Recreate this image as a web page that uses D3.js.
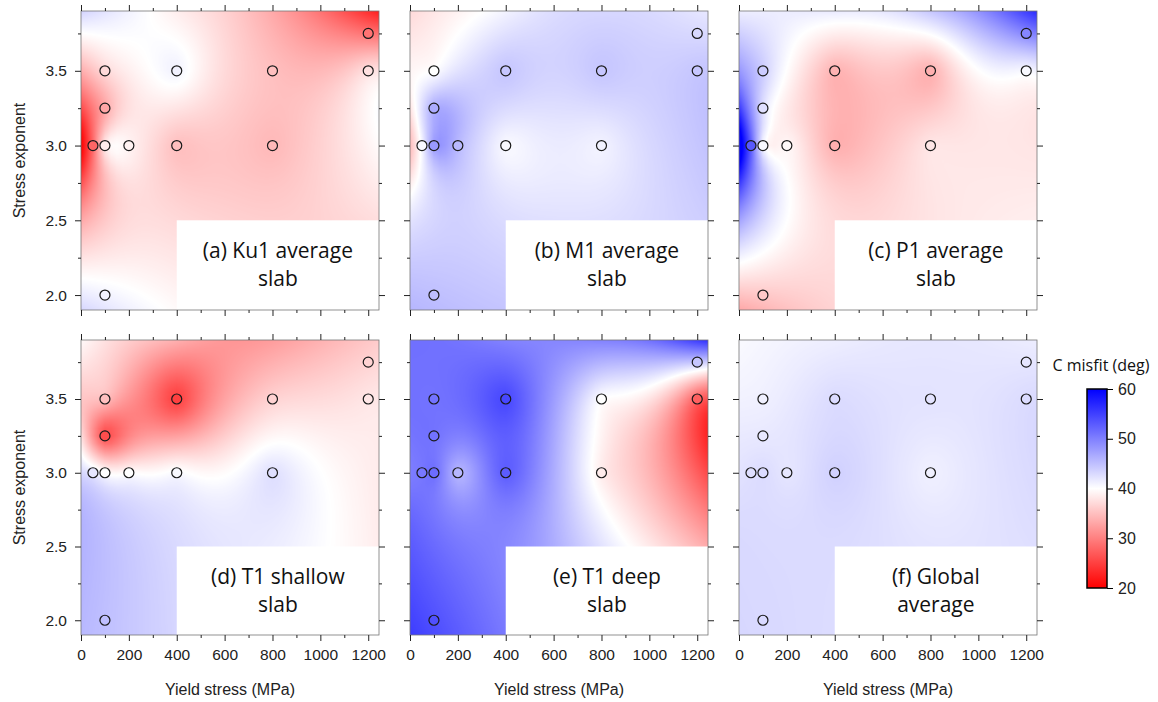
<!DOCTYPE html>
<html>
<head>
<meta charset="utf-8">
<script src="https://cdn.jsdelivr.net/npm/d3@7"></script>
<style>
  body { margin: 0; background: #fff; }
  svg { display: block; }
</style>
</head>
<body>
<svg id="chart" width="1158" height="702"></svg>
<script>
// Model runs: yield stress (MPa) and stress exponent of each run
const yieldStress    = [50, 100, 200, 400, 800, 100, 100, 400, 800, 1200, 1200, 100];
const stressExponent = [3.0, 3.0, 3.0, 3.0, 3.0, 3.25, 3.5, 3.5, 3.5, 3.5, 3.75, 2.0];

// C misfit (deg) of each run, per slab region
const misfitKu1       = [28.0, 38.5, 39.0, 35.0, 34.5, 33.0, 37.0, 41.0, 35.0, 37.6, 29.0, 41.0];
const misfitM1        = [40.5, 48.0, 45.5, 40.5, 41.0, 46.5, 40.0, 44.5, 44.5, 44.5, 43.0, 45.0];
const misfitP1        = [53.0, 40.5, 39.5, 33.8, 38.0, 42.5, 44.0, 34.0, 33.8, 40.5, 49.5, 35.7];
const misfitT1Shallow = [42.0, 40.0, 40.0, 40.5, 42.5, 26.0, 35.0, 25.0, 36.5, 38.0, 36.5, 45.0];
const misfitT1Deep    = [50.6, 51.5, 45.7, 52.8, 38.5, 51.0, 51.0, 54.4, 40.0, 27.5, 44.5, 53.7];
const misfitGlobal    = [42.5, 42.8, 42.0, 43.6, 41.2, 41.8, 41.2, 42.8, 42.2, 42.8, 42.0, 43.0];

const panelLabels = [
  ["(a) Ku1 average", "slab"],
  ["(b) M1 average", "slab"],
  ["(c) P1 average", "slab"],
  ["(d) T1 shallow", "slab"],
  ["(e) T1 deep", "slab"],
  ["(f) Global", "average"]
];
const panelValues = [misfitKu1, misfitM1, misfitP1, misfitT1Shallow, misfitT1Deep, misfitGlobal];

const xMajorTicks = [0, 200, 400, 600, 800, 1000, 1200];
const xMinorTicks = [100, 300, 500, 700, 900, 1100];
const yMajorTicks = [2.0, 2.5, 3.0, 3.5];
const yMinorTicks = [2.25, 2.75, 3.25, 3.75];
const colorTicks  = [20, 30, 40, 50, 60];

// Unsampled corner (high yield stress, low exponent) left blank
const blankFromYield = 400, blankBelowExponent = 2.5;

const xDomain = [0, 1245];
const yDomain = [1.9, 3.9];

const misfitColor = d3.scaleLinear()
  .domain([20, 40, 60])
  .range(["#ff0000", "#ffffff", "#0000ff"])
  .clamp(true);

// Lookup table of colours for fast raster fill
const lut = d3.range(0, 801).map(k => d3.rgb(misfitColor(20 + k * 0.05)));
function lutColor(v) {
  let k = Math.round((v - 20) / 0.05);
  if (k < 0) k = 0; if (k > 800) k = 800;
  return lut[k];
}

// Continuous-curvature gridding with tension on a regular node grid:
// (1-T) del^4 z - T del^2 z = 0 away from the runs, runs held fixed.
const gridDx = 25, gridDy = 0.05;
const gridNX = 51, gridNY = 41;          // x: 0..1250, y: 1.9..3.9
function gridSurface(values, tension, edgeTension) {
  const P = 2, W = gridNX + 2 * P, H = gridNY + 2 * P;
  const z = new Float64Array(W * H);
  const fixed = new Uint8Array(W * H);
  const id = (i, j) => (j + P) * W + (i + P);
  const nodes = values.map((v, k) => ({
    i: Math.round(yieldStress[k] / gridDx),
    j: Math.round((stressExponent[k] - yDomain[0]) / gridDy), v
  }));
  // start from inverse-distance weighting
  for (let j = 0; j < gridNY; j++) for (let i = 0; i < gridNX; i++) {
    let sw = 0, s = 0;
    nodes.forEach(n => {
      const d2 = (i - n.i) ** 2 + (j - n.j) ** 2 + 1e-6;
      const w = 1 / (d2 * d2); sw += w; s += w * n.v;
    });
    z[id(i, j)] = s / sw;
  }
  nodes.forEach(n => { z[id(n.i, n.j)] = n.v; fixed[id(n.i, n.j)] = 1; });
  const a = 1 - tension;
  const coef = 20 * a + 4 * tension;
  const e = 1 - edgeTension, omega = 1.7;
  for (let it = 0; it < 6000; it++) {
    // ghost nodes from edge conditions
    for (let i = 0; i < gridNX; i++) {
      const z0 = z[id(i, 0)], z1 = z[id(i, 1)];
      const gm1 = z0 - e * (z1 - z0); z[id(i, -1)] = gm1; z[id(i, -2)] = gm1 - e * (z0 - gm1);
      const t0 = z[id(i, gridNY - 1)], t1 = z[id(i, gridNY - 2)];
      const gp1 = t0 - e * (t1 - t0); z[id(i, gridNY)] = gp1; z[id(i, gridNY + 1)] = gp1 - e * (t0 - gp1);
    }
    for (let j = -P; j < gridNY + P; j++) {
      const z0 = z[id(0, j)], z1 = z[id(1, j)];
      const gm1 = z0 - e * (z1 - z0); z[id(-1, j)] = gm1; z[id(-2, j)] = gm1 - e * (z0 - gm1);
      const t0 = z[id(gridNX - 1, j)], t1 = z[id(gridNX - 2, j)];
      const gp1 = t0 - e * (t1 - t0); z[id(gridNX, j)] = gp1; z[id(gridNX + 1, j)] = gp1 - e * (t0 - gp1);
    }
    let maxChange = 0;
    for (let j = 0; j < gridNY; j++) {
      for (let i = 0; i < gridNX; i++) {
        const c = id(i, j);
        if (fixed[c]) continue;
        const s4 = z[c - 1] + z[c + 1] + z[c - W] + z[c + W];
        const sd = z[c - W - 1] + z[c - W + 1] + z[c + W - 1] + z[c + W + 1];
        const s2 = z[c - 2] + z[c + 2] + z[c - 2 * W] + z[c + 2 * W];
        const target = (a * (8 * s4 - 2 * sd - s2) + tension * s4) / coef;
        const delta = omega * (target - z[c]);
        z[c] += delta;
        if (Math.abs(delta) > maxChange) maxChange = Math.abs(delta);
      }
    }
    if (maxChange < 1e-5) break;
  }
  // bilinear sampling of the node grid
  return (xv, yv) => {
    let fi = xv / gridDx, fj = (yv - yDomain[0]) / gridDy;
    fi = Math.max(0, Math.min(gridNX - 1.0001, fi));
    fj = Math.max(0, Math.min(gridNY - 1.0001, fj));
    const i0 = Math.floor(fi), j0 = Math.floor(fj), tx = fi - i0, ty = fj - j0;
    const v00 = z[id(i0, j0)], v10 = z[id(i0 + 1, j0)], v01 = z[id(i0, j0 + 1)], v11 = z[id(i0 + 1, j0 + 1)];
    return (v00 * (1 - tx) + v10 * tx) * (1 - ty) + (v01 * (1 - tx) + v11 * tx) * ty;
  };
}

const svg = d3.select("#chart");
const colLeft = [81, 410, 739];
const rowTop = [11, 340];
const plotW = 298;
const plotH = [299, 295];

const tickFont = "'Liberation Sans', Arial, sans-serif";
const labelFont = "'Open Sans', 'Noto Sans', sans-serif";

panelValues.forEach((values, idx) => {
  const col = idx % 3, row = Math.floor(idx / 3);
  const W = plotW, H = plotH[row];
  const x = d3.scaleLinear().domain(xDomain).range([0, W]);
  const y = d3.scaleLinear().domain(yDomain).range([H, 0]);
  const g = svg.append("g").attr("transform", `translate(${colLeft[col]},${rowTop[row]})`);

  // Gridded misfit surface
  const surf = gridSurface(values, 0.12, 0.0);
  const canvas = document.createElement("canvas");
  canvas.width = W; canvas.height = H;
  const ctx = canvas.getContext("2d");
  const img = ctx.createImageData(W, H);
  for (let j = 0; j < H; j++) {
    const yv = y.invert(j + 0.5);
    for (let i = 0; i < W; i++) {
      const c = lutColor(surf(x.invert(i + 0.5), yv));
      const o = (j * W + i) * 4;
      img.data[o] = c.r; img.data[o + 1] = c.g; img.data[o + 2] = c.b; img.data[o + 3] = 255;
    }
  }
  ctx.putImageData(img, 0, 0);
  g.append("image").attr("x", 0).attr("y", 0).attr("width", W).attr("height", H)
    .attr("preserveAspectRatio", "none").attr("href", canvas.toDataURL());

  // Blank region with panel label
  const bx0 = x(blankFromYield), by0 = y(blankBelowExponent);
  g.append("rect").attr("x", bx0).attr("y", by0)
    .attr("width", W - bx0).attr("height", H - by0).attr("fill", "#fff");
  const cx = (bx0 + W) / 2, cy = (by0 + H) / 2;
  panelLabels[idx].forEach((line, k) => {
    g.append("text").attr("x", cx).attr("y", cy - 7 + k * 28)
      .attr("text-anchor", "middle").attr("font-family", labelFont)
      .attr("font-size", 21).attr("fill", "#111").text(line);
  });

  // Run markers
  g.selectAll("circle.run").data(values).join("circle").attr("class", "run")
    .attr("cx", (d, i) => x(yieldStress[i]))
    .attr("cy", (d, i) => y(stressExponent[i]))
    .attr("r", 5)
    .attr("fill", d => misfitColor(d))
    .attr("stroke", "#1a1a1a").attr("stroke-width", 1.2);

  // Frame
  g.append("rect").attr("x", 0).attr("y", 0).attr("width", W).attr("height", H)
    .attr("fill", "none").attr("stroke", "#777").attr("stroke-width", 0.8);

  // Ticks on all four sides
  const styleAxis = sel => {
    sel.select(".domain").remove();
    sel.selectAll(".tick line").attr("stroke", "#222").attr("stroke-width", 1);
    sel.selectAll(".tick text").attr("font-family", tickFont).attr("font-size", 15.5).attr("fill", "#222");
  };
  const showX = row === 1, showY = col === 0;
  g.append("g").attr("transform", `translate(0,${H})`)
    .call(d3.axisBottom(x).tickValues(xMajorTicks).tickSize(6).tickPadding(8)
      .tickFormat(showX ? d3.format("d") : () => ""))
    .call(styleAxis);
  g.append("g").attr("transform", `translate(0,${H})`)
    .call(d3.axisBottom(x).tickValues(xMinorTicks).tickSize(3).tickFormat(() => ""))
    .call(styleAxis);
  g.append("g")
    .call(d3.axisTop(x).tickValues(xMajorTicks).tickSize(6).tickFormat(() => ""))
    .call(styleAxis);
  g.append("g")
    .call(d3.axisTop(x).tickValues(xMinorTicks).tickSize(3).tickFormat(() => ""))
    .call(styleAxis);
  g.append("g")
    .call(d3.axisLeft(y).tickValues(yMajorTicks).tickSize(6).tickPadding(8)
      .tickFormat(showY ? d3.format(".1f") : () => ""))
    .call(styleAxis);
  g.append("g")
    .call(d3.axisLeft(y).tickValues(yMinorTicks).tickSize(3).tickFormat(() => ""))
    .call(styleAxis);
  g.append("g").attr("transform", `translate(${W},0)`)
    .call(d3.axisRight(y).tickValues(yMajorTicks).tickSize(6).tickFormat(() => ""))
    .call(styleAxis);
  g.append("g").attr("transform", `translate(${W},0)`)
    .call(d3.axisRight(y).tickValues(yMinorTicks).tickSize(3).tickFormat(() => ""))
    .call(styleAxis);

  if (showX) {
    g.append("text").attr("x", W / 2).attr("y", 695 - rowTop[row])
      .attr("text-anchor", "middle").attr("font-family", tickFont)
      .attr("font-size", 16).attr("fill", "#222").text("Yield stress (MPa)");
  }
  if (showY) {
    g.append("text")
      .attr("transform", `translate(${25 - colLeft[col]},${H / 2}) rotate(-90)`)
      .attr("text-anchor", "middle").attr("font-family", tickFont)
      .attr("font-size", 16).attr("fill", "#222").text("Stress exponent");
  }
});

// Colour bar
const cbX = 1087, cbY = 389, cbW = 20, cbH = 199;
const defs = svg.append("defs");
const grad = defs.append("linearGradient").attr("id", "misfitGrad")
  .attr("x1", 0).attr("y1", 1).attr("x2", 0).attr("y2", 0);
d3.range(0, 21).forEach(k => {
  const v = 20 + k * 2;
  grad.append("stop").attr("offset", (v - 20) / 40).attr("stop-color", misfitColor(v));
});
const cbScale = d3.scaleLinear().domain([20, 60]).range([cbH, 0]);
const cb = svg.append("g").attr("transform", `translate(${cbX},${cbY})`);
cb.append("rect").attr("width", cbW).attr("height", cbH).attr("fill", "url(#misfitGrad)")
  .attr("stroke", "#000").attr("stroke-width", 1.5);
cb.append("g").attr("transform", `translate(${cbW},0)`)
  .call(d3.axisRight(cbScale).tickValues(colorTicks).tickSize(6).tickPadding(5))
  .call(sel => {
    sel.select(".domain").remove();
    sel.selectAll(".tick line").attr("stroke", "#000");
    sel.selectAll(".tick text").attr("font-family", tickFont).attr("font-size", 16).attr("fill", "#222");
  });
svg.append("text").attr("x", 1052.5).attr("y", 370.5)
  .attr("font-family", labelFont).attr("font-size", 16).attr("fill", "#111")
  .text("C misfit (deg)");
</script>
</body>
</html>
